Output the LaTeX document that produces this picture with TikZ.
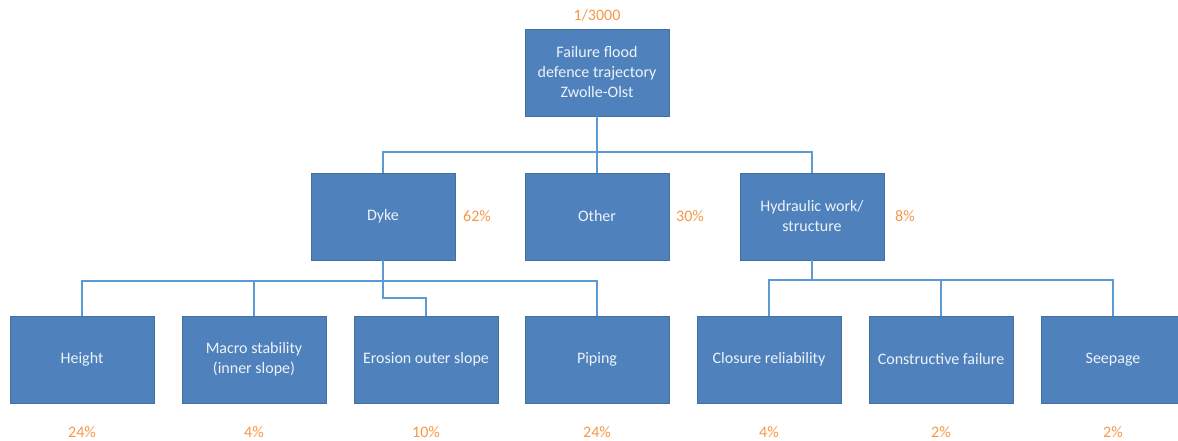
\documentclass[tikz,border=0pt]{standalone}
\usepackage{fontspec}
\setmainfont{Carlito}
\usetikzlibrary{calc}
\definecolor{boxfill}{HTML}{4F81BD}
\definecolor{boxdraw}{HTML}{41719C}
\definecolor{linec}{HTML}{5B9BD5}
\definecolor{pct}{HTML}{F79646}
\begin{document}
\begin{tikzpicture}[x=1pt,y=-1pt,
  box/.style={rectangle, fill=boxfill, draw=boxdraw, line width=0.8pt,
    minimum width=144pt, minimum height=87pt, inner sep=2pt,
    text=white!90!boxfill, align=center, font=\fontsize{16}{20}\selectfont},
  conn/.style={draw=linec, line width=2pt},
  pctlab/.style={text=pct, font=\fontsize{16}{19}\selectfont, inner sep=0pt}]
\useasboundingbox (0,0) rectangle (1178,441);
% boxes
\node[box] (top) at (597,72.5) {Failure flood\\defence trajectory\\Zwolle-Olst};
\node[box] (dyke) at (383,216.5) {Dyke};
\node[box] (other) at (597,216.5) {Other};
\node[box] (hyd) at (812,216.5) {Hydraulic work/\\structure};
\node[box] (height) at (82,359.5) {Height};
\node[box] (macro) at (254,359.5) {Macro stability\\(inner slope)};
\node[box] (erosion) at (426,359.5) {Erosion outer slope};
\node[box] (piping) at (597,359.5) {Piping};
\node[box] (closure) at (769,359.5) {Closure reliability};
\node[box] (constr) at (941,359.5) {Constructive failure};
\node[box] (seep) at (1113,359.5) {Seepage};
% junctions
\coordinate (j1) at (597,152);
\coordinate (j2) at (383,281);
\coordinate (j3) at (383,298);
\coordinate (j4) at (812,280);
% connectors
\draw[conn] (top.south) -- (j1);
\draw[conn] (dyke.north) |- (j1) -| (hyd.north);
\draw[conn] (j1) -- (other.north);
\draw[conn] (height.north) |- (j2) -| (piping.north);
\draw[conn] (macro.north) -- (macro.north |- j2);
\draw[conn] (dyke.south) -- (j3) -| (erosion.north);
\draw[conn] (closure.north) |- (j4) -| (seep.north);
\draw[conn] (hyd.south) -- (j4);
\draw[conn] (constr.north) -- (constr.north |- j4);
% percentages
\node[pctlab] (p0) at (597,15) {1/3000};
\node[pctlab] (p1) at (477,216) {62\%};
\node[pctlab] (p2) at (690,216) {30\%};
\node[pctlab] (p3) at (905,216) {8\%};
\node[pctlab] (p4) at (82,432) {24\%};
\node[pctlab] (p5) at (254,432) {4\%};
\node[pctlab] (p6) at (426,432) {10\%};
\node[pctlab] (p7) at (597,432) {24\%};
\node[pctlab] (p8) at (769,432) {4\%};
\node[pctlab] (p9) at (941,432) {2\%};
\node[pctlab] (p10) at (1113,432) {2\%};
\end{tikzpicture}
\end{document}
